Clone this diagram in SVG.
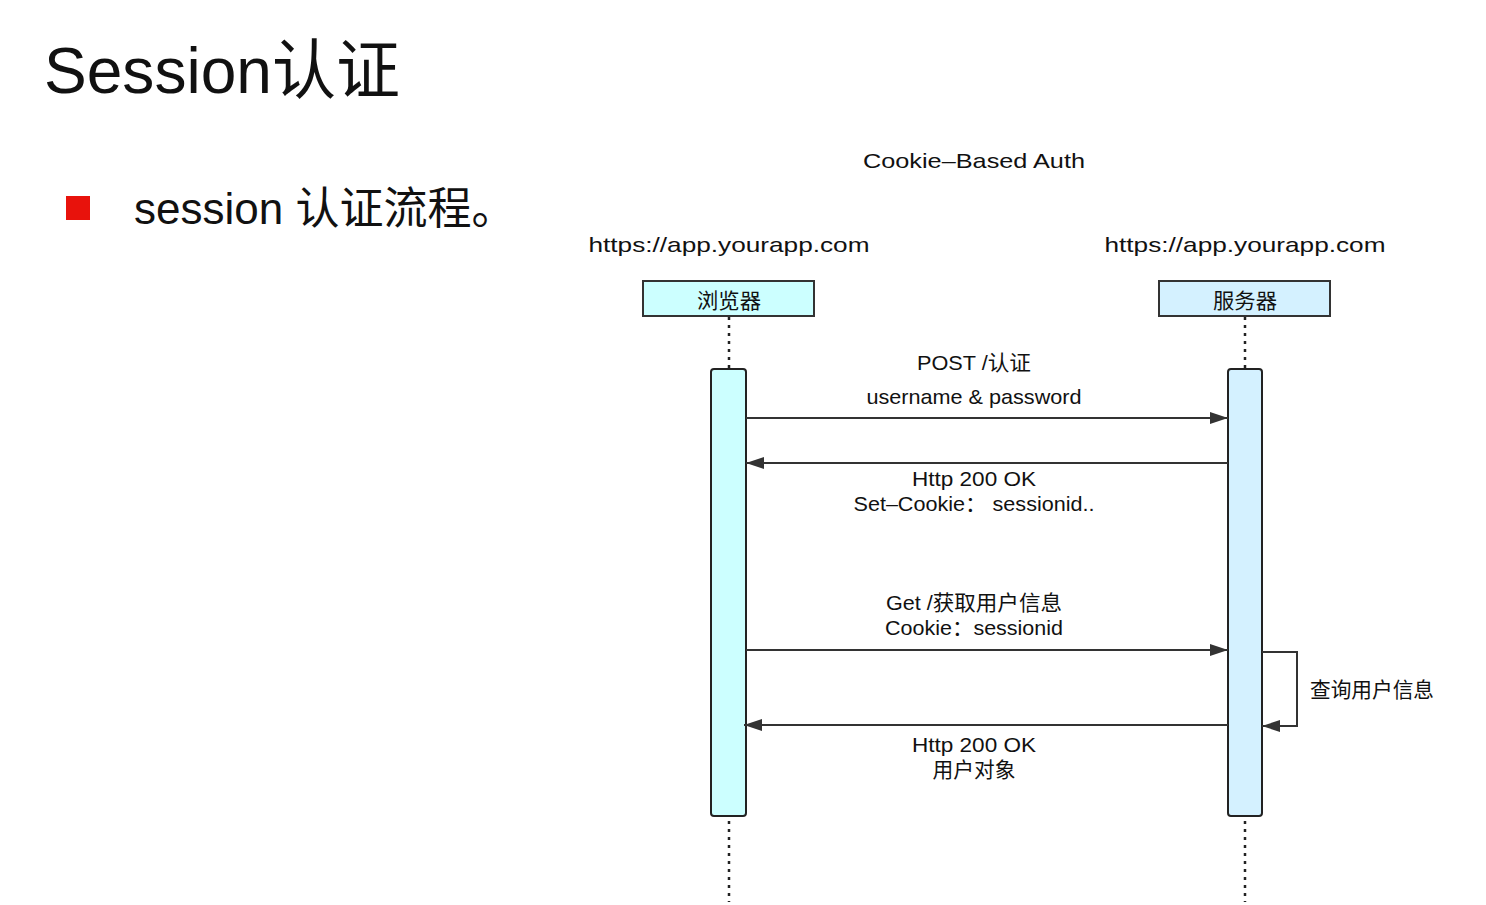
<svg xmlns="http://www.w3.org/2000/svg" width="1486" height="905" viewBox="0 0 1486 905">
<style>
.t{font-family:"Liberation Sans","Noto Sans CJK SC",sans-serif;fill:#111}
.c{text-anchor:middle;font-size:21px}
.ll{stroke:#222;stroke-width:2.5;stroke-dasharray:3 5;fill:none}
.msg{stroke:#333;stroke-width:2;fill:none}
</style>
<defs>
<marker id="ah" markerWidth="18" markerHeight="12" refX="18" refY="6" orient="auto" markerUnits="userSpaceOnUse">
<path d="M0,0 L18,6 L0,12 Z" fill="#333"/>
</marker>
</defs>
<rect width="1486" height="905" fill="#fff"/>
<text class="t" x="44" y="93" font-size="65" textLength="356" lengthAdjust="spacingAndGlyphs">Session认证</text>
<rect x="66" y="196" width="24" height="24" fill="#e8120c"/>
<text class="t" x="134" y="224" font-size="44">session 认证流程。</text>
<text class="t c" x="974" y="168" font-size="22" textLength="222" lengthAdjust="spacingAndGlyphs">Cookie‒Based Auth</text>
<text class="t c" x="729" y="252" font-size="23" textLength="281" lengthAdjust="spacingAndGlyphs">https://app.yourapp.com</text>
<text class="t c" x="1245" y="252" font-size="23" textLength="281" lengthAdjust="spacingAndGlyphs">https://app.yourapp.com</text>
<g id="lifelines">
<line class="ll" x1="729" y1="317" x2="729" y2="902"/>
<line class="ll" x1="1245" y1="317" x2="1245" y2="902"/>
</g>
<g id="browser">
<rect x="643" y="281" width="171" height="35" fill="#ccffff" stroke="#333" stroke-width="2"/>
<text class="t c" x="729" y="308" textLength="64" lengthAdjust="spacingAndGlyphs">浏览器</text>
<rect x="711" y="369" width="35" height="447" rx="3" fill="#ccffff" stroke="#222" stroke-width="2"/>
</g>
<g id="server">
<rect x="1159" y="281" width="171" height="35" fill="#d4f1ff" stroke="#333" stroke-width="2"/>
<text class="t c" x="1245" y="308" textLength="64" lengthAdjust="spacingAndGlyphs">服务器</text>
<rect x="1228" y="369" width="34" height="447" rx="3" fill="#d4f1ff" stroke="#222" stroke-width="2"/>
</g>
<g id="connectors">
<line class="msg" x1="746" y1="418" x2="1228" y2="418" marker-end="url(#ah)"/>
<line class="msg" x1="1228" y1="463" x2="746" y2="463" marker-end="url(#ah)"/>
<line class="msg" x1="746" y1="650" x2="1228" y2="650" marker-end="url(#ah)"/>
<line class="msg" x1="1228" y1="725" x2="744" y2="725" marker-end="url(#ah)"/>
<polyline class="msg" points="1262,652 1297,652 1297,726 1262,726" marker-end="url(#ah)"/>
</g>
<g id="labels">
<text class="t c" x="974" y="370" textLength="114" lengthAdjust="spacingAndGlyphs">POST /认证</text>
<text class="t c" x="974" y="404" textLength="215" lengthAdjust="spacingAndGlyphs">username &amp; password</text>
<text class="t c" x="974" y="486" textLength="124" lengthAdjust="spacingAndGlyphs">Http 200 OK</text>
<text class="t c" x="974" y="511" textLength="241" lengthAdjust="spacingAndGlyphs">Set‒Cookie：  sessionid..</text>
<text class="t c" x="974" y="610" textLength="176" lengthAdjust="spacingAndGlyphs">Get /获取用户信息</text>
<text class="t c" x="974" y="635" textLength="178" lengthAdjust="spacingAndGlyphs">Cookie：sessionid</text>
<text class="t" x="1310" y="697" font-size="21" textLength="124" lengthAdjust="spacingAndGlyphs">查询用户信息</text>
<text class="t c" x="974" y="752" textLength="124" lengthAdjust="spacingAndGlyphs">Http 200 OK</text>
<text class="t c" x="974" y="777" textLength="83" lengthAdjust="spacingAndGlyphs">用户对象</text>
</g>
</svg>
